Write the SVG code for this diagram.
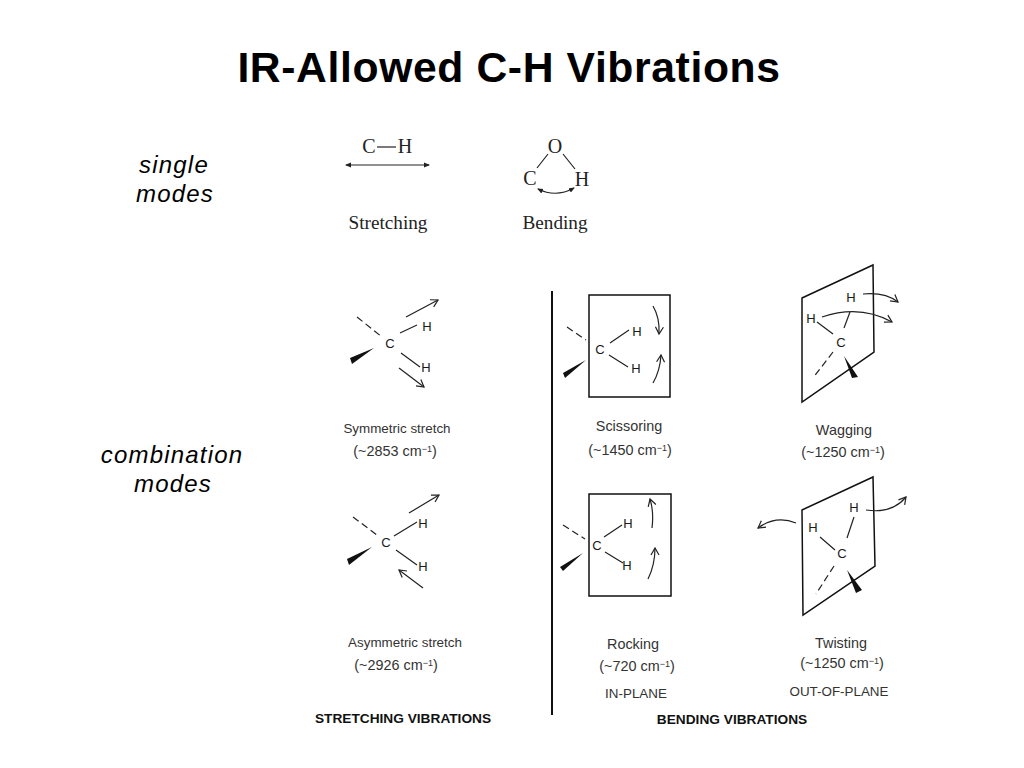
<svg xmlns="http://www.w3.org/2000/svg" width="1024" height="768" viewBox="0 0 1024 768">
<style>
text{font-family:"Liberation Sans",Arial,sans-serif;text-anchor:middle;fill:#1a1a1a}
.title{font-size:42.67px;font-weight:bold;fill:#000;letter-spacing:.62px}
.side{font-size:24px;font-style:italic;fill:#000;letter-spacing:1.2px}
.ser{font-family:"Liberation Serif","Times New Roman",serif;fill:#222}
.atom{font-size:20px}
.cap{font-size:19.2px}
.a{font-size:13px}
.l{font-size:13.4px;fill:#333}
.m{font-size:14.4px;fill:#333}
.b{font-weight:bold;font-size:13.7px;fill:#111}
.sup{font-size:9px}
.line,.arrow,.plane,.dash{fill:none;stroke:#222;stroke-width:1.2}
.arrow{marker-end:url(#open)}
.plane{stroke-width:1.5;stroke:#111}
.dash{stroke-dasharray:7 4}
.wedge{fill:#111}
</style>
<defs>
<marker id="open" markerWidth="10" markerHeight="10" refX="8" refY="5" orient="auto" markerUnits="userSpaceOnUse"><path d="M1 1L8 5L1 9" fill="none" stroke="#222" stroke-width="1.2"/></marker>
<marker id="solid" markerWidth="7" markerHeight="6" refX="5" refY="3" orient="auto-start-reverse" markerUnits="userSpaceOnUse"><path d="M0 .5L6 3L0 5.5Z" fill="#222"/></marker>
</defs>
<rect width="1024" height="768" fill="#fff"/>
<text class="title" x="509" y="82">IR-Allowed C-H Vibrations</text>
<g id="label-single"><text class="side" x="174" y="173">single</text><text class="side" x="175" y="202">modes</text></g>
<g id="label-combination"><text class="side" x="172" y="463">combination</text><text class="side" x="173" y="492">modes</text></g>

<g id="stretching">
<text class="ser atom" x="369" y="153">C</text><text class="ser atom" x="405" y="153">H</text>
<path class="line" d="M377 147H396" stroke-width="1.6"/>
<path class="line" d="M346 165H429" marker-start="url(#solid)" marker-end="url(#solid)"/>
<text class="ser cap" x="388" y="229">Stretching</text>
</g>
<g id="bending">
<text class="ser atom" x="555" y="153">O</text><text class="ser atom" x="530" y="185">C</text><text class="ser atom" x="582" y="186">H</text>
<path class="line" d="M537 168L548 154M563 154L575 169"/>
<path class="line" d="M538 189Q556 198 574 188" marker-start="url(#solid)" marker-end="url(#solid)"/>
<text class="ser cap" x="555" y="229">Bending</text>
</g>

<g id="symmetric-stretch">
<path class="dash" d="M357 317L382 337"/>
<path class="wedge" d="M374 348L350 358L352 364Z"/>
<path class="line" d="M400 333L417 325M401 353L420 367"/>
<text class="a" x="390" y="348">C</text><text class="a" x="427" y="331">H</text><text class="a" x="426" y="372">H</text>
<path class="arrow" d="M406 317L438 300"/><path class="arrow" d="M399 368L424 387"/>
<text class="l" x="397" y="433">Symmetric stretch</text>
<text class="m" x="395" y="456">(~2853 cm<tspan class="sup" dy="-4">−1</tspan><tspan dy="4">)</tspan></text>
</g>
<g id="asymmetric-stretch">
<path class="dash" d="M353 517L377 535"/>
<path class="wedge" d="M372 547L347 559L349 565Z"/>
<path class="line" d="M394 536L417 522M396 550L417 565"/>
<text class="a" x="386" y="547">C</text><text class="a" x="423" y="528">H</text><text class="a" x="423" y="571">H</text>
<path class="arrow" d="M409 513L439 495"/><path class="arrow" d="M423 588L399 570"/>
<text class="l" x="405" y="647">Asymmetric stretch</text>
<text class="m" x="396" y="670">(~2926 cm<tspan class="sup" dy="-4">−1</tspan><tspan dy="4">)</tspan></text>
</g>
<g id="divider"><path d="M552 291V715" stroke="#111" stroke-width="2" fill="none"/></g>
<g id="scissoring">
<rect class="plane" x="589" y="295" width="81" height="102"/>
<path class="dash" d="M567 327L586 340"/>
<path class="wedge" d="M586 360L563 373L565 378Z"/>
<path class="line" d="M610 343L629 330M609 355L628 367"/>
<text class="a" x="600" y="354">C</text><text class="a" x="637" y="336">H</text><text class="a" x="636" y="373">H</text>
<path class="arrow" d="M653 306Q660 318 659 334"/><path class="arrow" d="M653 383Q660 371 661 355"/>
<text class="m" x="629" y="431">Scissoring</text>
<text class="m" x="630" y="455">(~1450 cm<tspan class="sup" dy="-4">−1</tspan><tspan dy="4">)</tspan></text>
</g>
<g id="rocking">
<rect class="plane" x="589" y="494" width="82" height="102"/>
<path class="dash" d="M563 525L585 539"/>
<path class="wedge" d="M583 553L560 567L563 571Z"/>
<path class="line" d="M604 537L622 525M605 552L623 563"/>
<text class="a" x="597" y="550">C</text><text class="a" x="628" y="528">H</text><text class="a" x="627" y="570">H</text>
<path class="arrow" d="M652 528Q654 512 650 499"/><path class="arrow" d="M648 579Q655 565 655 548"/>
<text class="m" x="633" y="649">Rocking</text>
<text class="m" x="637" y="671">(~720 cm<tspan class="sup" dy="-4">−1</tspan><tspan dy="4">)</tspan></text>
<text class="l" x="636" y="698">IN-PLANE</text>
</g>
<g id="wagging">
<path class="plane" d="M802 298L873 265L874 352L802 402Z"/>
<path class="dash" d="M833 352L813 378"/>
<path class="wedge" d="M844 356L852 378L858 377Z"/>
<path class="line" d="M850 312L844 328M817 322L833 334"/>
<text class="a" x="841" y="347">C</text><text class="a" x="851" y="302">H</text><text class="a" x="811" y="323">H</text>
<path class="arrow" d="M863 294Q885 292 898 302"/><path class="arrow" d="M822 317Q860 304 892 322"/>
<text class="m" x="844" y="435">Wagging</text>
<text class="m" x="843" y="457">(~1250 cm<tspan class="sup" dy="-4">−1</tspan><tspan dy="4">)</tspan></text>
</g>
<g id="twisting">
<path class="plane" d="M802 510L873 477L875 566L803 615Z"/>
<path class="dash" d="M834 566L816 594"/>
<path class="wedge" d="M847 570L856 593L862 590Z"/>
<path class="line" d="M854 517L847 538M820 537L835 550"/>
<text class="a" x="842" y="558">C</text><text class="a" x="854" y="512">H</text><text class="a" x="813" y="532">H</text>
<path class="arrow" d="M866 510Q892 514 906 497"/><path class="arrow" d="M796 523Q776 515 758 528"/>
<text class="m" x="841" y="648">Twisting</text>
<text class="m" x="842" y="668">(~1250 cm<tspan class="sup" dy="-4">−1</tspan><tspan dy="4">)</tspan></text>
<text class="l" x="839" y="696">OUT-OF-PLANE</text>
</g>
<g id="headings">
<text class="b" x="403" y="723">STRETCHING VIBRATIONS</text>
<text class="b" x="732" y="724">BENDING VIBRATIONS</text>
</g>
</svg>
